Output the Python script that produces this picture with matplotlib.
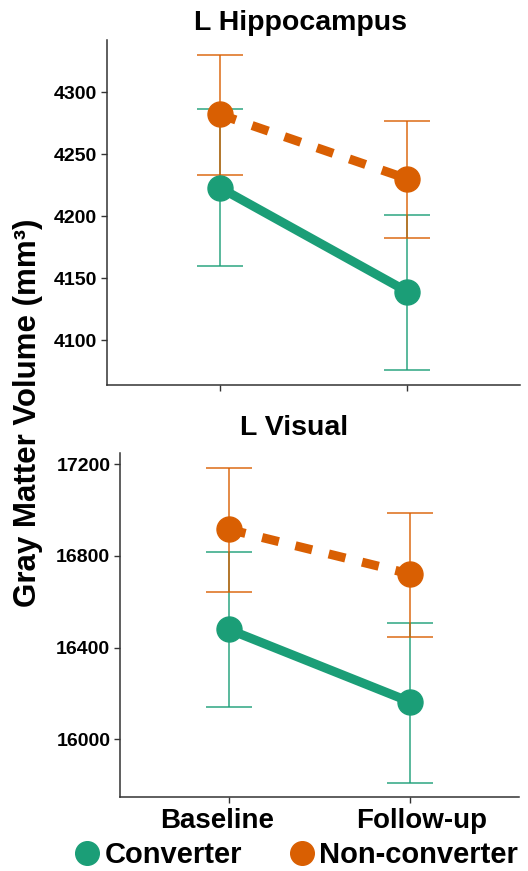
import matplotlib
matplotlib.use("Agg")
import matplotlib.pyplot as plt
from matplotlib.lines import Line2D
from matplotlib.transforms import ScaledTranslation

plt.rcParams['font.family'] = ['Liberation Sans', 'DejaVu Sans']
plt.rcParams['font.weight'] = 'bold'

timepoints = ["Baseline", "Follow-up"]
groups = ["Converter", "Non-converter"]
colors = {"Converter": "#1b9e77", "Non-converter": "#d95f02"}
styles = {"Converter": "solid", "Non-converter": "dashed"}

# L Hippocampus
hip_mean = {"Converter": [4223, 4139], "Non-converter": [4282, 4230]}
hip_upper = {"Converter": [4286, 4201], "Non-converter": [4330, 4277]}
hip_lower = {"Converter": [4160, 4076], "Non-converter": [4233, 4182]}
hip_ticks = [4100, 4150, 4200, 4250, 4300]

# L Visual
vis_mean = {"Converter": [16479, 16163], "Non-converter": [16916, 16721]}
vis_upper = {"Converter": [16818, 16507], "Non-converter": [17185, 16989]}
vis_lower = {"Converter": [16140, 15810], "Non-converter": [16641, 16446]}
vis_ticks = [16000, 16400, 16800, 17200]

W, H = 528, 871
fig = plt.figure(figsize=(W / 100, H / 100), dpi=100)


def px_axes(l, t, r, b):
    return fig.add_axes([l / W, 1 - b / H, (r - l) / W, (b - t) / H])


def draw(ax, means, uppers, lowers, ticks, ylim):
    xs = [1, 2]
    for g in groups:
        c = colors[g]
        m = means[g]
        yerr = [[m[i] - lowers[g][i] for i in range(2)],
                [uppers[g][i] - m[i] for i in range(2)]]
        ax.errorbar(xs, m, yerr=yerr, fmt='none', ecolor=c, elinewidth=1.2,
                    capsize=16.5, capthick=1.2, alpha=0.85, zorder=2)
        ln, = ax.plot(xs, m, color=c, lw=6.5, zorder=3, solid_capstyle='butt')
        if styles[g] == "dashed":
            ln.set_dashes([1.9, 1.9])
        ax.plot(xs, m, 'o', color=c, ms=18, zorder=4)
    ax.set_xlim(0.4, 2.6)
    ax.set_ylim(*ylim)
    ax.set_yticks(ticks)
    ax.set_xticks(xs)
    for s in ['top', 'right']:
        ax.spines[s].set_visible(False)
    for s in ['left', 'bottom']:
        ax.spines[s].set_color('#333333')
        ax.spines[s].set_linewidth(1.1)
    ax.tick_params(axis='both', length=4, width=1.0, color='#333333')
    ax.tick_params(axis='y', labelsize=14, pad=3)
    for lab in ax.get_yticklabels():
        lab.set_fontweight('bold')


ax1 = px_axes(107, 40, 520, 385)
draw(ax1, hip_mean, hip_upper, hip_lower, hip_ticks, (4063.7, 4342))
ax1.set_xticklabels([])

ax2 = px_axes(120, 453, 519, 797)
draw(ax2, vis_mean, vis_upper, vis_lower, vis_ticks, (15748, 17249))
ax2.set_xticklabels(timepoints, fontsize=20, fontweight='bold')
ax2.tick_params(axis='x', pad=4)
shifts = [-12, 11]
for lab, dx in zip(ax2.get_xticklabels(), shifts):
    lab.set_transform(lab.get_transform() +
                      ScaledTranslation(dx / 100, 0, fig.dpi_scale_trans))

fig.text(300 / W, 1 - 22.5 / H, "L Hippocampus", ha='center', va='center',
         fontsize=20.5, fontweight='bold')
fig.text(294 / W, 1 - 428 / H, "L Visual", ha='center', va='center',
         fontsize=20.5, fontweight='bold')
fig.text(28 / W, 1 - 413 / H, "Gray Matter Volume (mm³)", ha='center',
         va='center', rotation=90, fontsize=22.5, fontweight='bold')

handles = [Line2D([], [], marker='o', ls='none', color=colors[g], ms=17)
           for g in groups]
fig.legend(handles, groups, loc='center', bbox_to_anchor=(296 / W, 1 - 855 / H),
           ncol=2, frameon=False, handlelength=0.9,
           handletextpad=0.15, columnspacing=1.6, borderpad=0,
           prop={'weight': 'bold', 'size': 21})

fig.savefig("out.png", dpi=100)
